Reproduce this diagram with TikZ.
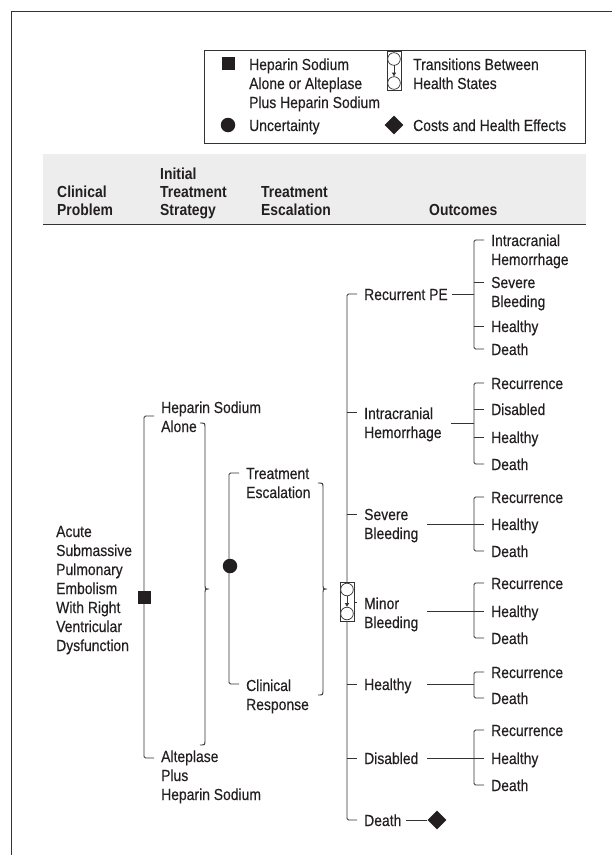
\documentclass[tikz,border=0pt]{standalone}
\usepackage{fontspec}
\setmainfont{Liberation Sans}[FakeStretch=0.87,UprightFeatures={FakeBold=0.35}]
\usetikzlibrary{arrows.meta,shapes.geometric}
\definecolor{txt}{HTML}{231F20}
\definecolor{ln}{HTML}{333333}
\definecolor{band}{HTML}{EDEDED}
\begin{document}
\begin{tikzpicture}[x=1pt,y=-1pt,
  lbl/.style={anchor=north west,inner sep=0pt,align=left,text=txt,yshift=7.5pt,font=\fontsize{16}{19}\selectfont},
  hdr/.style={anchor=north west,inner sep=0pt,align=left,text=txt,yshift=6.9pt,font=\fontsize{16}{18}\selectfont\bfseries},
  br/.style={draw=ln,line width=0.9pt,rounded corners=1.5pt},
  tk/.style={draw=ln,line width=0.9pt},
  sq/.style={fill=txt,minimum size=13pt,inner sep=0pt},
  dot/.style={circle,fill=txt,minimum size=14.5pt,inner sep=0pt},
  dia/.style={diamond,fill=txt,minimum size=19pt,inner sep=0pt},
  trans/.pic={
    \draw[ln,line width=0.7pt,fill=white] (-7,-19.5) rectangle (7,19.5);
    \draw[ln,line width=0.7pt,fill=white] (0,-12) circle (6.3);
    \draw[ln,line width=0.7pt,fill=white] (0,12) circle (6.3);
    \draw[ln,line width=0.7pt,-{Latex[length=4pt,width=4.5pt]}] (0,-5.7) -- (0,5.7);
  }
]
\useasboundingbox (0,0) rectangle (612,855);
% frame
\draw[ln,line width=1pt] (11,855) -- (11,11) -- (612,11);

% legend
\draw[ln,line width=0.9pt] (204,50) rectangle (585,143);
\node[sq] (lsq) at (228,63) {};
\node[lbl] (l1) at (249,64) {\strut Heparin Sodium\\Alone or Alteplase\\Plus Heparin Sodium};
\node[dot] (lci) at (228,125) {};
\node[lbl] (l2) at (249,125) {\strut Uncertainty};
\pic (ltr) at (394,71) {trans};
\node[lbl] (l3) at (413,64) {\strut Transitions Between\\Health States};
\node[dia] (ldi) at (394,125) {};
\node[lbl] (l4) at (413,125) {\strut Costs and Health Effects};

% header
\fill[band] (43,154) rectangle (586,224);
\draw[ln,line width=1pt] (43,224) -- (586,224);
\node[hdr] (h1) at (57,192) {\strut Clinical\\Problem};
\node[hdr] (h2) at (160,174) {\strut Initial\\Treatment\\Strategy};
\node[hdr] (h3) at (261,192) {\strut Treatment\\Escalation};
\node[hdr] (h4) at (429,210) {\strut Outcomes};

% clinical problem
\node[lbl] (cp) at (56,531) {\strut Acute\\Submassive\\Pulmonary\\Embolism\\With Right\\Ventricular\\Dysfunction};

% initial strategy
\coordinate (s1t) at (144,416);
\coordinate (s2t) at (144,758);
\draw[br] (154,416) -- (s1t) -- (s2t) -- (154,758);
\node[sq] (dsq) at (144,597) {};
\node[lbl] (s1) at (161,407) {\strut Heparin Sodium\\Alone};
\node[lbl] (s2) at (161,756) {\strut Alteplase\\Plus\\Heparin Sodium};
% brace 1
\draw[ln,line width=0.9pt] (200,423) .. controls (205,423) .. (205,428) -- (205,584)
  .. controls (205,589) .. (209,589) .. controls (205,589) .. (205,594) -- (205,740)
  .. controls (205,745) .. (200,745);

% escalation
\coordinate (e1t) at (229,473);
\coordinate (e2t) at (229,684);
\draw[br] (239,473) -- (e1t) -- (e2t) -- (239,684);
\node[dot] (dci) at (230,566) {};
\node[lbl] (e1) at (246,473) {\strut Treatment\\Escalation};
\node[lbl] (e2) at (246,685) {\strut Clinical\\Response};
% brace 2
\draw[ln,line width=0.9pt] (318,483) .. controls (323,483) .. (323,488) -- (323,584)
  .. controls (323,589) .. (327,589) .. controls (323,589) .. (323,594) -- (323,690)
  .. controls (323,695) .. (318,695);

% outcomes main spine
\coordinate (mtop) at (347,294);
\coordinate (mbot) at (347,820);
\draw[br] (357,294) -- (mtop) -- (mbot) -- (357,820);
\foreach \yy in {412,514,602,684,758} \draw[tk] (347,\yy) -- (357,\yy);
\pic (mtr) at (347,601.5) {trans};
\node[lbl] (o1) at (364,294) {\strut Recurrent PE};
\node[lbl] (o2) at (364,413) {\strut Intracranial\\Hemorrhage};
\node[lbl] (o3) at (364,514) {\strut Severe\\Bleeding};
\node[lbl] (o4) at (364,603) {\strut Minor\\Bleeding};
\node[lbl] (o5) at (364,684) {\strut Healthy};
\node[lbl] (o6) at (364,758) {\strut Disabled};
\node[lbl] (o7) at (364,820) {\strut Death};
\node[dia] (ddi) at (437,820) {};
\draw[tk] (406,820) -- (ddi.west);

% group: recurrent PE
\draw[br] (484,240) -- (474,240) -- (474,349) -- (484,349);
\foreach \yy in {282,326} \draw[tk] (474,\yy) -- (484,\yy);
\draw[tk] (452,294) -- (474,294);
\node[lbl] (a1) at (491,240) {\strut Intracranial\\Hemorrhage};
\node[lbl] (a2) at (491,282) {\strut Severe\\Bleeding};
\node[lbl] (a3) at (491,326) {\strut Healthy};
\node[lbl] (a4) at (491,349) {\strut Death};

% group: intracranial hemorrhage
\draw[br] (484,383) -- (474,383) -- (474,464) -- (484,464);
\foreach \yy in {409,437} \draw[tk] (474,\yy) -- (484,\yy);
\draw[tk] (451,423) -- (474,423);
\node[lbl] (b1) at (491,383) {\strut Recurrence};
\node[lbl] (b2) at (491,409) {\strut Disabled};
\node[lbl] (b3) at (491,437) {\strut Healthy};
\node[lbl] (b4) at (491,464) {\strut Death};

% group: severe bleeding
\draw[br] (484,497) -- (474,497) -- (474,551) -- (484,551);
\draw[tk] (427,524) -- (484,524);
\node[lbl] (c1) at (491,497) {\strut Recurrence};
\node[lbl] (c2) at (491,524) {\strut Healthy};
\node[lbl] (c3) at (491,551) {\strut Death};

% group: minor bleeding
\draw[br] (484,583) -- (474,583) -- (474,638) -- (484,638);
\draw[tk] (427,611) -- (484,611);
\node[lbl] (d1) at (491,583) {\strut Recurrence};
\node[lbl] (d2) at (491,611) {\strut Healthy};
\node[lbl] (d3) at (491,638) {\strut Death};

% group: healthy
\draw[br] (484,672) -- (474,672) -- (474,698) -- (484,698);
\draw[tk] (427,684) -- (474,684);
\node[lbl] (f1) at (491,672) {\strut Recurrence};
\node[lbl] (f2) at (491,698) {\strut Death};

% group: disabled
\draw[br] (484,730) -- (474,730) -- (474,785) -- (484,785);
\draw[tk] (427,758) -- (484,758);
\node[lbl] (g1) at (491,730) {\strut Recurrence};
\node[lbl] (g2) at (491,758) {\strut Healthy};
\node[lbl] (g3) at (491,785) {\strut Death};
\end{tikzpicture}
\end{document}
